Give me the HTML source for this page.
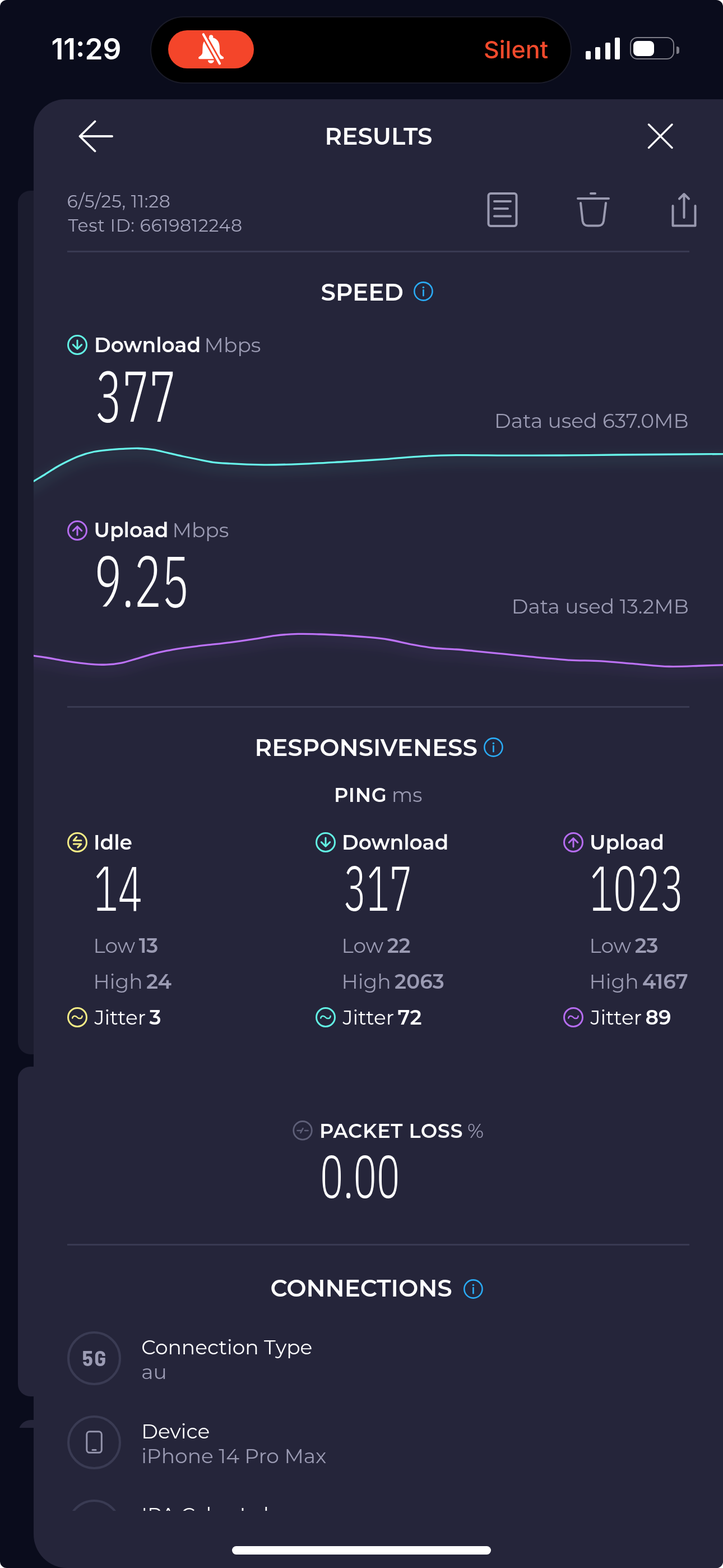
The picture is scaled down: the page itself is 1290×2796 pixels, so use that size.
<!DOCTYPE html>
<html><head><meta charset="utf-8">
<style>
html,body{margin:0;padding:0;background:#ffffff;}
body{width:1290px;height:2796px;overflow:hidden;position:relative;}
#scr{position:absolute;left:0;top:0;width:1290px;height:2796px;background:#0a0c1c;border-radius:12px;overflow:hidden;}
.t{position:absolute;white-space:nowrap;line-height:1;font-family:"Montserrat","Liberation Sans",sans-serif;color:#fff;}
.sb{font-family:"Inter","Liberation Sans",sans-serif;}
.n{font-family:"IBM Plex Sans Condensed","Liberation Sans Narrow","Liberation Sans",sans-serif;font-weight:300;color:#fff;transform:scaleX(0.72);transform-origin:0 0;}
.g{color:#9b9bb3;}
.w4{font-weight:400}.w5{font-weight:500}.w6{font-weight:600}.w7{font-weight:700}
.abs{position:absolute;}
#card{position:absolute;left:60px;top:177px;width:1290px;height:2619px;background:#25253a;border-radius:56px 0 0 60px;}
.back{position:absolute;left:32px;width:60px;}
.div{position:absolute;left:120px;width:1110px;height:3px;background:#393a52;}
</style></head>
<body>
<div id="scr">
  <!-- back cards -->
  <div class="back" style="top:340px;height:1540px;background:#1b1c2e;border-radius:22px;"></div>
  <div class="back" style="top:1902px;height:588px;background:#25253a;border-radius:22px;"></div>
  <div class="abs" style="left:0;top:2532px;width:60px;height:14px;overflow:hidden;"><div class="back" style="left:33px;top:0;height:60px;background:#25253a;border-radius:22px;"></div></div>

  <!-- main card -->
  <div id="card"></div>

  <!-- status bar -->
  <div class="t sb w6" style="left:91.5px;top:62.3px;font-size:51.5px;">11:29</div>
  <div class="abs" style="left:270px;top:31px;width:748px;height:116px;border-radius:58px;background:#000;box-shadow:0 0 0 2px #1a1b28;"></div>
  <div class="abs" style="left:300px;top:54px;width:153px;height:68px;border-radius:34px;background:#f4452a;"></div>
  <svg class="abs" style="left:0;top:0" width="460" height="130">
    <circle cx="376.7" cy="65.8" r="3.6" fill="#fff"/>
    <path d="M376.7 67 C368 67 362 73 361.6 83 L361.2 94 C360.8 97.5 358 99.5 355 101.3 Q353.2 103 354.5 104.6 Q355 105.2 356.5 105.2 L396.8 105.2 Q398.3 105.2 398.8 104.6 Q400 103 398.3 101.3 C395.3 99.5 392.5 97.5 392.1 94 L391.7 83 C391.3 73 385.4 67 376.7 67 Z" fill="#fff"/>
    <path d="M371 107.4 A5.4 5.4 0 0 0 381.8 107.4 Z" fill="#fff"/>
    <path d="M362.8 61.3 L392 113.4" stroke="#f5462b" stroke-width="10" stroke-linecap="round"/>
    <path d="M362.8 61.3 L392 113.4" stroke="#fff" stroke-width="4.2" stroke-linecap="round"/>
  </svg>
  <div class="t sb w5" style="left:863px;top:67px;font-size:43px;color:#f24a2c;">Silent</div>
  <!-- signal -->
  <div class="abs" style="left:1045px;top:91px;width:9px;height:15px;background:#fff;border-radius:2px;"></div>
  <div class="abs" style="left:1062px;top:83.5px;width:9px;height:22px;background:#fff;border-radius:2px;"></div>
  <div class="abs" style="left:1079.5px;top:75.5px;width:9px;height:30px;background:#fff;border-radius:2px;"></div>
  <div class="abs" style="left:1096.5px;top:67px;width:9px;height:38.5px;background:#fff;border-radius:2px;"></div>
  <!-- battery -->
  <div class="abs" style="left:1124px;top:66px;width:75px;height:36px;border:2.5px solid #7d7d88;border-radius:13px;"></div>
  <div class="abs" style="left:1130px;top:73px;width:37px;height:27px;background:#fff;border-radius:8px;"></div>
  <div class="abs" style="left:1207px;top:83px;width:5px;height:13px;background:#7d7d88;border-radius:0 4px 4px 0;"></div>

  <!-- header -->
  <svg class="abs" style="left:0;top:0" width="1290" height="460">
    <path d="M169.5 216.5 L142.5 243 L169.5 269.5 M142.5 243 L200 243" stroke="#fff" stroke-width="3.8" stroke-linecap="round" stroke-linejoin="round" fill="none"/>
    <path d="M1157.5 222 L1199 263.5 M1199 222 L1157.5 263.5" stroke="#fff" stroke-width="3.4" stroke-linecap="round" fill="none"/>
    <!-- doc -->
    <rect x="871.5" y="345" width="50" height="58" rx="4" stroke="#9a9ab0" stroke-width="4" fill="none"/>
    <path d="M882 359 H911 M882 372 H906 M882 385.5 H911" stroke="#9a9ab0" stroke-width="4" stroke-linecap="round"/>
    <!-- trash -->
    <path d="M1031 354 H1086 M1054 345 H1062" stroke="#9a9ab0" stroke-width="4" stroke-linecap="round"/>
    <path d="M1036 362 L1039.5 394 Q1041 402.5 1049 402.5 H1067.5 Q1075.5 402.5 1077 394 L1081 362" stroke="#9a9ab0" stroke-width="4" stroke-linecap="round" stroke-linejoin="round" fill="none"/>
    <!-- share -->
    <path d="M1200.5 367 V402.5 H1240.5 V367" stroke="#9a9ab0" stroke-width="4" stroke-linecap="round" stroke-linejoin="round" fill="none"/>
    <path d="M1220.5 388 V346 M1212 354.5 L1220.5 346 L1229 354.5" stroke="#9a9ab0" stroke-width="4" stroke-linecap="round" stroke-linejoin="round" fill="none"/>
  </svg>
  <div class="t w6" style="left:0;width:1351px;text-align:center;top:222px;font-size:42px;">RESULTS</div>

  <div class="t w4" style="left:119.5px;top:344.4px;font-size:31.5px;letter-spacing:0.65px;color:#a4a4bc;">6/5/25, 11:28</div>
  <div class="t w4" style="left:121.5px;top:386.8px;font-size:31.5px;letter-spacing:0.65px;color:#a4a4bc;">Test ID: 6619812248</div>
  <div class="div" style="top:447px;"></div>


  <!-- SPEED -->
  <div class="t w6" style="left:572.5px;top:500px;font-size:42px;">SPEED</div>
  <svg class="abs" style="left:733px;top:497px" width="46" height="46" viewBox="0 0 46 46"><circle cx="22.4" cy="22.5" r="16.1" stroke="#2aabf5" stroke-width="2.6" fill="none"/><circle cx="22.4" cy="15.5" r="1.8" fill="#2aabf5"/><path d="M22.4 20.2 V30.2" stroke="#2aabf5" stroke-width="2.7" stroke-linecap="round"/></svg>

  <svg class="abs" style="left:120px;top:597px" width="36" height="36" viewBox="0 0 36 36"><circle cx="18" cy="18" r="16.5" stroke="#62f2e4" stroke-width="3" fill="none"/><path d="M18 10 V25 M10.3 17.6 L18 25.3 L25.7 17.6" stroke="#62f2e4" stroke-width="3" stroke-linecap="round" stroke-linejoin="round" fill="none"/></svg>
  <div class="t w6" style="left:168px;top:596.6px;font-size:36px;">Download <span class="w4 g" style="margin-left:-3.5px">Mbps</span></div>
  <div class="t n" style="left:169.5px;top:640px;font-size:128px;transform:scaleX(0.697);">377</div>
  <div class="t w4 g" style="right:61.4px;top:731.7px;font-size:36px;">Data used 637.0MB</div>

  <!-- charts -->
  <div class="abs" style="left:60px;top:700px;width:1230px;height:560px;overflow:hidden;">
    <svg class="abs" style="left:-60px;top:-700px" width="1290" height="1300">
      <defs>
        <filter id="bl" x="-10%" y="-200%" width="120%" height="500%"><feGaussianBlur stdDeviation="8"/></filter>
      </defs>
      <path d="M40.0 870.2 C46.7 866.2 53.3 862.1 60.0 858.1 C66.7 854.0 73.5 850.1 80.2 846.0 C86.9 841.9 93.7 837.1 100.4 833.2 C107.1 829.3 113.9 825.8 120.6 822.5 C127.1 819.3 133.5 816.2 140.0 813.7 C149.2 810.1 158.5 807.4 167.7 805.5 C176.7 803.6 185.7 803.0 194.7 802.1 C203.1 801.3 211.6 800.8 220.0 800.4 C229.0 799.9 237.9 799.3 246.9 799.5 C255.9 799.7 264.9 800.5 273.9 801.9 C282.9 803.3 291.8 805.9 300.8 807.9 C309.8 809.9 318.7 812.1 327.7 814.0 C336.7 815.9 345.7 817.7 354.7 819.5 C363.1 821.2 371.6 823.1 380.0 824.3 C390.1 825.7 400.3 826.0 410.4 826.6 C430.6 827.9 450.8 828.6 471.0 828.8 C491.2 829.0 511.4 828.3 531.6 827.6 C558.5 826.7 585.5 825.0 612.4 823.5 C639.3 821.9 666.3 820.2 693.2 818.3 C713.4 816.8 733.6 814.7 753.8 813.6 C774.0 812.5 794.2 812.0 814.4 811.7 C842.9 811.2 871.5 812.0 900.0 812.1 C933.3 812.2 966.7 812.2 1000.0 812.0 C1033.3 811.8 1066.7 811.3 1100.0 811.0 C1163.3 810.4 1226.7 810.0 1290.0 809.6 C1300.0 809.5 1310.0 809.5 1320.0 809.4" transform="translate(0,8)" stroke="#5fe8e0" stroke-opacity="0.06" stroke-width="22" fill="none" filter="url(#bl)"/>
      <path d="M40.0 870.2 C46.7 866.2 53.3 862.1 60.0 858.1 C66.7 854.0 73.5 850.1 80.2 846.0 C86.9 841.9 93.7 837.1 100.4 833.2 C107.1 829.3 113.9 825.8 120.6 822.5 C127.1 819.3 133.5 816.2 140.0 813.7 C149.2 810.1 158.5 807.4 167.7 805.5 C176.7 803.6 185.7 803.0 194.7 802.1 C203.1 801.3 211.6 800.8 220.0 800.4 C229.0 799.9 237.9 799.3 246.9 799.5 C255.9 799.7 264.9 800.5 273.9 801.9 C282.9 803.3 291.8 805.9 300.8 807.9 C309.8 809.9 318.7 812.1 327.7 814.0 C336.7 815.9 345.7 817.7 354.7 819.5 C363.1 821.2 371.6 823.1 380.0 824.3 C390.1 825.7 400.3 826.0 410.4 826.6 C430.6 827.9 450.8 828.6 471.0 828.8 C491.2 829.0 511.4 828.3 531.6 827.6 C558.5 826.7 585.5 825.0 612.4 823.5 C639.3 821.9 666.3 820.2 693.2 818.3 C713.4 816.8 733.6 814.7 753.8 813.6 C774.0 812.5 794.2 812.0 814.4 811.7 C842.9 811.2 871.5 812.0 900.0 812.1 C933.3 812.2 966.7 812.2 1000.0 812.0 C1033.3 811.8 1066.7 811.3 1100.0 811.0 C1163.3 810.4 1226.7 810.0 1290.0 809.6 C1300.0 809.5 1310.0 809.5 1320.0 809.4" stroke="#68f4ea" stroke-width="3.3" fill="none" stroke-linecap="round"/>
      <path d="M40.0 1166.5 C46.8 1167.4 53.6 1168.3 60.4 1169.3 C67.6 1170.3 74.8 1171.3 82.0 1172.5 C91.0 1173.9 99.9 1175.8 108.9 1177.3 C117.9 1178.8 126.8 1180.2 135.8 1181.4 C144.8 1182.6 153.8 1183.7 162.8 1184.3 C171.8 1184.9 180.7 1185.5 189.7 1185.2 C198.7 1184.9 207.6 1184.0 216.6 1182.2 C225.6 1180.4 234.6 1177.2 243.6 1174.6 C252.6 1172.0 261.5 1169.0 270.5 1166.6 C279.5 1164.2 288.4 1162.2 297.4 1160.4 C306.4 1158.6 315.4 1157.2 324.4 1155.8 C333.4 1154.5 342.3 1153.4 351.3 1152.3 C359.2 1151.3 367.1 1150.5 375.0 1149.6 C386.8 1148.3 398.6 1147.1 410.4 1145.6 C423.9 1143.9 437.3 1142.0 450.8 1139.9 C464.3 1137.9 477.7 1134.9 491.2 1133.3 C504.7 1131.7 518.1 1130.8 531.6 1130.4 C545.1 1130.0 558.5 1130.6 572.0 1131.0 C585.5 1131.4 598.9 1132.2 612.4 1133.0 C625.9 1133.8 639.3 1134.7 652.8 1135.9 C666.3 1137.2 679.7 1138.3 693.2 1140.5 C706.7 1142.7 720.1 1146.5 733.6 1149.0 C747.1 1151.5 760.5 1154.0 774.0 1155.5 C787.5 1157.0 800.9 1156.9 814.4 1158.0 C826.3 1158.9 838.1 1160.2 850.0 1161.3 C863.6 1162.6 877.2 1164.0 890.8 1165.3 C917.7 1167.9 944.7 1170.9 971.6 1173.3 C985.1 1174.5 998.5 1175.9 1012.0 1176.8 C1032.2 1178.1 1052.4 1177.6 1072.6 1178.8 C1092.8 1180.0 1113.0 1182.2 1133.2 1183.8 C1153.4 1185.4 1173.6 1188.0 1193.8 1188.5 C1214.0 1189.0 1234.2 1187.6 1254.4 1187.0 C1266.3 1186.7 1278.1 1186.2 1290.0 1185.9 C1300.0 1185.7 1310.0 1185.6 1320.0 1185.5" transform="translate(0,8)" stroke="#b26cf0" stroke-opacity="0.06" stroke-width="22" fill="none" filter="url(#bl)"/>
      <path d="M40.0 1166.5 C46.8 1167.4 53.6 1168.3 60.4 1169.3 C67.6 1170.3 74.8 1171.3 82.0 1172.5 C91.0 1173.9 99.9 1175.8 108.9 1177.3 C117.9 1178.8 126.8 1180.2 135.8 1181.4 C144.8 1182.6 153.8 1183.7 162.8 1184.3 C171.8 1184.9 180.7 1185.5 189.7 1185.2 C198.7 1184.9 207.6 1184.0 216.6 1182.2 C225.6 1180.4 234.6 1177.2 243.6 1174.6 C252.6 1172.0 261.5 1169.0 270.5 1166.6 C279.5 1164.2 288.4 1162.2 297.4 1160.4 C306.4 1158.6 315.4 1157.2 324.4 1155.8 C333.4 1154.5 342.3 1153.4 351.3 1152.3 C359.2 1151.3 367.1 1150.5 375.0 1149.6 C386.8 1148.3 398.6 1147.1 410.4 1145.6 C423.9 1143.9 437.3 1142.0 450.8 1139.9 C464.3 1137.9 477.7 1134.9 491.2 1133.3 C504.7 1131.7 518.1 1130.8 531.6 1130.4 C545.1 1130.0 558.5 1130.6 572.0 1131.0 C585.5 1131.4 598.9 1132.2 612.4 1133.0 C625.9 1133.8 639.3 1134.7 652.8 1135.9 C666.3 1137.2 679.7 1138.3 693.2 1140.5 C706.7 1142.7 720.1 1146.5 733.6 1149.0 C747.1 1151.5 760.5 1154.0 774.0 1155.5 C787.5 1157.0 800.9 1156.9 814.4 1158.0 C826.3 1158.9 838.1 1160.2 850.0 1161.3 C863.6 1162.6 877.2 1164.0 890.8 1165.3 C917.7 1167.9 944.7 1170.9 971.6 1173.3 C985.1 1174.5 998.5 1175.9 1012.0 1176.8 C1032.2 1178.1 1052.4 1177.6 1072.6 1178.8 C1092.8 1180.0 1113.0 1182.2 1133.2 1183.8 C1153.4 1185.4 1173.6 1188.0 1193.8 1188.5 C1214.0 1189.0 1234.2 1187.6 1254.4 1187.0 C1266.3 1186.7 1278.1 1186.2 1290.0 1185.9 C1300.0 1185.7 1310.0 1185.6 1320.0 1185.5" stroke="#bb72f4" stroke-width="3.3" fill="none" stroke-linecap="round"/>
    </svg>
  </div>

  <svg class="abs" style="left:120px;top:928px" width="36" height="36" viewBox="0 0 36 36"><circle cx="18" cy="18" r="16.5" stroke="#b56cf0" stroke-width="3" fill="none"/><path d="M18 26 V11 M10.3 18.4 L18 10.7 L25.7 18.4" stroke="#b56cf0" stroke-width="3" stroke-linecap="round" stroke-linejoin="round" fill="none"/></svg>
  <div class="t w6" style="left:167.5px;top:927.3px;font-size:36px;">Upload <span class="w4 g" style="margin-left:-3px">Mbps</span></div>
  <div class="t n" style="left:167.6px;top:970.4px;font-size:128px;transform:scaleX(0.715);">9.25</div>
  <div class="t w4 g" style="right:61.2px;top:1063.4px;font-size:36px;">Data used 13.2MB</div>

  <div class="div" style="top:1259px;"></div>

  <!-- RESPONSIVENESS -->
  <div class="t w6" style="left:454.5px;top:1312px;font-size:42px;">RESPONSIVENESS</div>
  <svg class="abs" style="left:858px;top:1309.5px" width="46" height="46" viewBox="0 0 46 46"><circle cx="22.4" cy="22.5" r="16.1" stroke="#2aabf5" stroke-width="2.6" fill="none"/><circle cx="22.4" cy="15.5" r="1.8" fill="#2aabf5"/><path d="M22.4 20.2 V30.2" stroke="#2aabf5" stroke-width="2.7" stroke-linecap="round"/></svg>
  <div class="t w6" style="left:596px;top:1400px;font-size:35px;"><span style="letter-spacing:0.7px">PING</span> <span class="w4 g" style="margin-left:-1px">ms</span></div>

  <svg class="abs" style="left:120px;top:1484px" width="36" height="36" viewBox="0 0 36 36"><circle cx="18" cy="18" r="16.5" stroke="#f5ec86" stroke-width="3" fill="none"/><path d="M11.3 14.7 H24.9 M11.3 14.7 L16.8 8.3 M11.3 21 H24.9 L18.8 27.1" stroke="#f5ec86" stroke-width="3" stroke-linecap="round" stroke-linejoin="round" fill="none"/></svg>
  <div class="t w6" style="left:167px;top:1484px;font-size:36px;">Idle</div>
  <div class="t n" style="left:167.1px;top:1525.5px;font-size:112px;">14</div>
  <div class="t w4 g" style="left:166.6px;top:1668px;font-size:36px;word-spacing:-3px;">Low <span class="w6">13</span></div>
  <div class="t w4 g" style="left:166.6px;top:1732px;font-size:36px;word-spacing:-3px;">High <span class="w6">24</span></div>
  <svg class="abs" style="left:120px;top:1796px" width="36" height="36" viewBox="0 0 36 36"><circle cx="18" cy="18" r="16.5" stroke="#f5ec86" stroke-width="3" fill="none"/><path d="M9.2 19.5 C10.2 14.8 15 14.8 17.5 17.8 C20 20.8 26 21.5 26.6 15.8" stroke="#f5ec86" stroke-width="2.5" stroke-linecap="round" fill="none"/></svg>
  <div class="t w4" style="left:168.5px;top:1796px;font-size:36px;word-spacing:-3px;">Jitter <span class="w6">3</span></div>

  <svg class="abs" style="left:563px;top:1484px" width="36" height="36" viewBox="0 0 36 36"><circle cx="18" cy="18" r="16.5" stroke="#62f2e4" stroke-width="3" fill="none"/><path d="M18 10 V25 M10.3 17.6 L18 25.3 L25.7 17.6" stroke="#62f2e4" stroke-width="3" stroke-linecap="round" stroke-linejoin="round" fill="none"/></svg>
  <div class="t w6" style="left:610px;top:1484px;font-size:36px;">Download</div>
  <div class="t n" style="left:613px;top:1525.5px;font-size:112px;transform:scaleX(0.675);">317</div>
  <div class="t w4 g" style="left:609.6px;top:1668px;font-size:36px;word-spacing:-3px;">Low <span class="w6">22</span></div>
  <div class="t w4 g" style="left:609.6px;top:1732px;font-size:36px;word-spacing:-3px;">High <span class="w6">2063</span></div>
  <svg class="abs" style="left:563px;top:1796px" width="36" height="36" viewBox="0 0 36 36"><circle cx="18" cy="18" r="16.5" stroke="#62f2e4" stroke-width="3" fill="none"/><path d="M9.2 19.5 C10.2 14.8 15 14.8 17.5 17.8 C20 20.8 26 21.5 26.6 15.8" stroke="#62f2e4" stroke-width="2.5" stroke-linecap="round" fill="none"/></svg>
  <div class="t w4" style="left:611.5px;top:1796px;font-size:36px;word-spacing:-3px;">Jitter <span class="w6">72</span></div>

  <svg class="abs" style="left:1005px;top:1484px" width="36" height="36" viewBox="0 0 36 36"><circle cx="18" cy="18" r="16.5" stroke="#b56cf0" stroke-width="3" fill="none"/><path d="M18 26 V11 M10.3 18.4 L18 10.7 L25.7 18.4" stroke="#b56cf0" stroke-width="3" stroke-linecap="round" stroke-linejoin="round" fill="none"/></svg>
  <div class="t w6" style="left:1052px;top:1484px;font-size:36px;">Upload</div>
  <div class="t n" style="left:1052.1px;top:1525.5px;font-size:112px;transform:scaleX(0.695);">1023</div>
  <div class="t w4 g" style="left:1051.6px;top:1668px;font-size:36px;word-spacing:-3px;">Low <span class="w6">23</span></div>
  <div class="t w4 g" style="left:1051.6px;top:1732px;font-size:36px;word-spacing:-3px;">High <span class="w6">4167</span></div>
  <svg class="abs" style="left:1005px;top:1796px" width="36" height="36" viewBox="0 0 36 36"><circle cx="18" cy="18" r="16.5" stroke="#b56cf0" stroke-width="3" fill="none"/><path d="M9.2 19.5 C10.2 14.8 15 14.8 17.5 17.8 C20 20.8 26 21.5 26.6 15.8" stroke="#b56cf0" stroke-width="2.5" stroke-linecap="round" fill="none"/></svg>
  <div class="t w4" style="left:1053.5px;top:1796px;font-size:36px;word-spacing:-3px;">Jitter <span class="w6">89</span></div>

  <!-- PACKET LOSS -->
  <svg class="abs" style="left:522px;top:1998px" width="36" height="36" viewBox="0 0 36 36"><circle cx="18" cy="17.8" r="16.3" stroke="#5e5f78" stroke-width="2.8" fill="none"/><path d="M8.6 18 H15 M22 18 H27.6 M14.3 22 L18.5 14.2" stroke="#5e5f78" stroke-width="2.6" stroke-linecap="round" fill="none"/></svg>
  <div class="t w6" style="left:570px;top:1999px;font-size:35px;"><span style="letter-spacing:0.7px">PACKET LOSS</span> <span class="w4 g" style="margin-left:-2px">%</span></div>
  <div class="t n" style="left:570.7px;top:2042.6px;font-size:106.5px;">0.00</div>

  <div class="div" style="top:2218px;"></div>

  <!-- CONNECTIONS -->
  <div class="t w6" style="left:482.5px;top:2276.3px;font-size:42px;">CONNECTIONS</div>
  <svg class="abs" style="left:822px;top:2275.8px" width="46" height="46" viewBox="0 0 46 46"><circle cx="22.4" cy="22.5" r="16.1" stroke="#2aabf5" stroke-width="2.6" fill="none"/><circle cx="22.4" cy="15.5" r="1.8" fill="#2aabf5"/><path d="M22.4 20.2 V30.2" stroke="#2aabf5" stroke-width="2.7" stroke-linecap="round"/></svg>

  <div class="abs" style="left:60px;top:2330px;width:1230px;height:364px;overflow:hidden;">
    <div class="abs" style="left:-60px;top:-2330px;width:1290px;height:2800px;">
      <div class="abs" style="left:120px;top:2374.0px;width:88px;height:88px;border:4px solid #3a3b53;border-radius:50%;"></div>
      <div class="t" style="left:146.8px;top:2400.5px;font-size:39px;font-weight:700;letter-spacing:2.4px;color:#9c9cb4;font-family:'Barlow Semi Condensed','Liberation Sans Narrow',sans-serif;">5G</div>
      <div class="t w4" style="left:252.2px;top:2384px;font-size:36px;">Connection Type</div>
      <div class="t w4 g" style="left:252.2px;top:2428px;font-size:36px;">au</div>

      <div class="abs" style="left:120px;top:2524.0px;width:88px;height:88px;border:4px solid #3a3b53;border-radius:50%;"></div>
      <svg class="abs" style="left:150px;top:2548px" width="36" height="48" viewBox="0 0 36 48"><rect x="4.8" y="4.8" width="26.5" height="37.5" rx="5" stroke="#9595ad" stroke-width="3" fill="none"/><path d="M15 37.5 H21" stroke="#9595ad" stroke-width="3" stroke-linecap="round"/></svg>
      <div class="t w4" style="left:252.2px;top:2534px;font-size:36px;">Device</div>
      <div class="t w4 g" style="left:252.2px;top:2578px;font-size:36px;">iPhone 14 Pro Max</div>

      <div class="abs" style="left:120px;top:2674.0px;width:88px;height:88px;border:4px solid #3a3b53;border-radius:50%;"></div>
      <div class="t w4" style="left:252.2px;top:2683px;font-size:36px;">IPA CyberLab</div>
    </div>
  </div>


  <!-- home indicator -->
  <div class="abs" style="left:414px;top:2757px;width:462px;height:15px;background:#fff;border-radius:8px;"></div>
</div>
</body></html>
